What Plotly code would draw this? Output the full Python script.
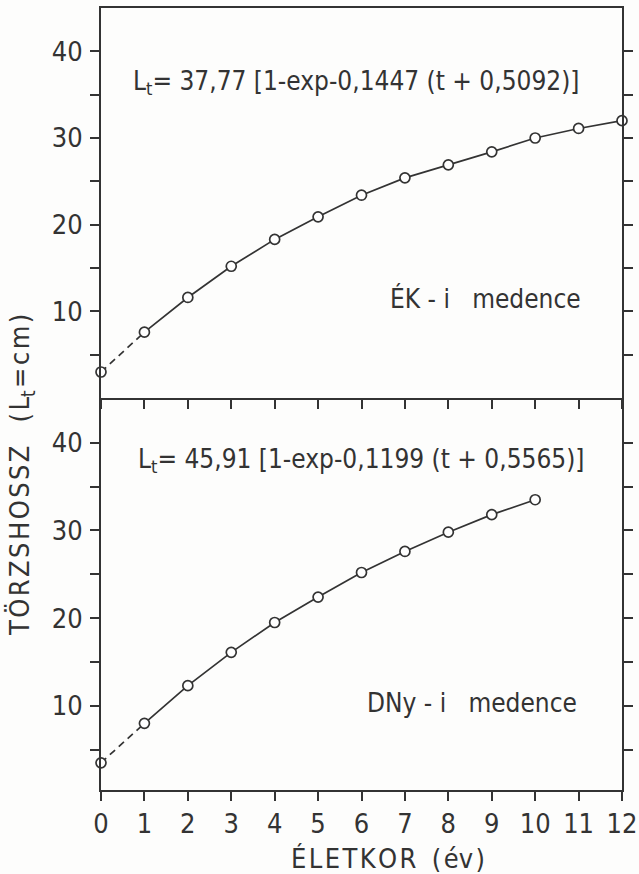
import plotly.graph_objects as go

# Age classes (years)
age_ek = list(range(0, 13))
age_dny = list(range(0, 11))

# Mean standard length (cm) per age class
len_ek = [3.0, 7.6, 11.6, 15.2, 18.3, 20.9, 23.4, 25.4, 26.9, 28.4, 30.0, 31.1, 32.0]
len_dny = [3.5, 8.0, 12.3, 16.1, 19.5, 22.4, 25.2, 27.6, 29.8, 31.8, 33.5]

x_ticks = list(range(0, 13))
y_ticks = [5, 10, 15, 20, 25, 30, 35, 40]
y_ticktext = ["", "10", "", "20", "", "30", "", "40"]


def spaced(s):
    # open up the lettering a little with hair spaces
    return "\u200a".join(s)


eq_ek = "L<sub>t</sub>= 37,77 [1-exp-0,1447 (t + 0,5092)]"
eq_dny = "L<sub>t</sub>= 45,91 [1-exp-0,1199 (t + 0,5565)]"
label_ek = "ÉK - i\u00a0\u00a0 medence"
label_dny = "DNy - i\u00a0\u00a0 medence"
y_title = spaced("TÖRZSHOSSZ") + "\u00a0\u00a0\u00a0(\u200aL<sub>t</sub>\u200a=\u200ac\u200am\u200a)"
x_title = spaced("ÉLETKOR") + "\u00a0\u00a0(\u200aév\u200a)"

INK = "#333333"
FONT = "DejaVu Sans Condensed, Liberation Sans Narrow, Arial Narrow, sans-serif"

fig = go.Figure()


def add_series(ages, lengths, xa, ya):
    # back-extrapolated segment to age 0 is dashed
    fig.add_trace(go.Scatter(
        x=ages[:2], y=lengths[:2], mode="lines",
        line=dict(color=INK, width=1.7, dash="7px,5px"),
        xaxis=xa, yaxis=ya, showlegend=False, hoverinfo="skip"))
    fig.add_trace(go.Scatter(
        x=ages[1:], y=lengths[1:], mode="lines",
        line=dict(color=INK, width=1.7),
        xaxis=xa, yaxis=ya, showlegend=False))
    fig.add_trace(go.Scatter(
        x=ages, y=lengths, mode="markers",
        marker=dict(symbol="circle", size=10, color="white",
                    line=dict(color=INK, width=1.7)),
        xaxis=xa, yaxis=ya, showlegend=False, cliponaxis=False))


add_series(age_ek, len_ek, "x", "y")
add_series(age_dny, len_dny, "x2", "y2")

x_dom = [101 / 639, 622 / 639]
top_dom = [(874 - 398) / 874, (874 - 8) / 874]
bot_dom = [(874 - 790) / 874, (874 - 398) / 874]

axis_common = dict(showgrid=False, zeroline=False, showline=True,
                   automargin=False,
                   linecolor=INK, linewidth=1.7, ticks="outside",
                   ticklen=9, tickwidth=1.5, tickcolor=INK,
                   tickfont=dict(family=FONT, size=27, color=INK))

fig.update_layout(
    width=639, height=874,
    margin=dict(l=0, r=0, t=0, b=0),
    paper_bgcolor="#fdfdfc", plot_bgcolor="#fdfdfc",
    xaxis=dict(domain=x_dom, range=[0, 12], tickvals=x_ticks,
               showticklabels=False, mirror=True, anchor="y",
               **axis_common),
    yaxis=dict(domain=top_dom, range=[0, 45], tickvals=y_ticks,
               ticktext=y_ticktext, mirror="ticks", anchor="x",
               ticklabelstandoff=2, **axis_common),
    xaxis2=dict(domain=x_dom, range=[0, 12], tickvals=x_ticks,
                anchor="y2", ticklabelstandoff=0, **axis_common),
    yaxis2=dict(domain=bot_dom, range=[0.4, 45.1], tickvals=y_ticks,
                ticktext=y_ticktext, mirror="ticks", anchor="x2",
                ticklabelstandoff=2, **axis_common),
)

eq_font = dict(family=FONT, size=26, color=INK)
lab_font = dict(family=FONT, size=26, color=INK)
title_font = dict(family=FONT, size=27, color=INK)

# positions below are in pixels and converted to paper fractions afterwards
fig.add_annotation(text=eq_ek, x=131, y=82, xanchor="left",
                   yanchor="middle", showarrow=False, font=eq_font)
fig.add_annotation(text=eq_dny, x=136, y=460, xanchor="left",
                   yanchor="middle", showarrow=False, font=eq_font)
fig.add_annotation(text=label_ek, x=583, y=298, xanchor="right",
                   yanchor="middle", showarrow=False, font=lab_font)
fig.add_annotation(text=label_dny, x=579, y=703, xanchor="right",
                   yanchor="middle", showarrow=False, font=lab_font)
fig.add_annotation(text=y_title, x=21, y=475, textangle=-90,
                   xanchor="center", yanchor="middle", showarrow=False,
                   font=title_font)
fig.add_annotation(text=x_title, x=388, y=858, xanchor="center",
                   yanchor="middle", showarrow=False, font=title_font)

for a in fig.layout.annotations:
    a.xref = "paper"
    a.yref = "paper"
    a.x = a.x / 639
    a.y = (874 - a.y) / 874

fig.write_html("out.html")
